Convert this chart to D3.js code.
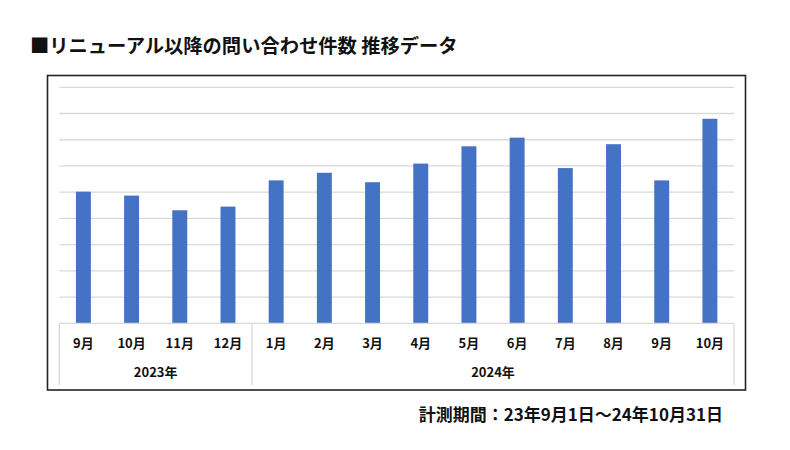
<!DOCTYPE html>
<html>
<head>
<meta charset="utf-8">
<script src="https://cdn.jsdelivr.net/npm/d3@7"></script>
<style>
  body { margin: 0; background: #fff; }
  text { font-family: "Noto Sans CJK JP", "Noto Sans", sans-serif; font-weight: 700; fill: #111; }
</style>
</head>
<body>
<div id="root"></div>
<script>
// data (units: one gridline = 10)
const months = ["9月", "10月", "11月", "12月", "1月", "2月", "3月", "4月", "5月", "6月", "7月", "8月", "9月", "10月"]
const values = [50.2, 48.7, 43.1, 44.5, 54.5, 57.4, 53.8, 60.9, 67.5, 70.8, 59.2, 68.3, 54.5, 78.0]
const years = ["2023年", "2024年"]
const yearCounts = [4, 10]
const gridTicks = [10, 20, 30, 40, 50, 60, 70, 80, 90]

function drawChart() {
    const w = 790, h = 450

    const svg = d3.select("#root").append("svg")
        .attr("width", w)
        .attr("height", h)

    svg.append("rect").attr("width", w).attr("height", h).attr("fill", "#fff")

    // title
    svg.append("text")
        .attr("x", 30)
        .attr("y", 46)
        .attr("dy", "0.36em")
        .attr("font-size", 19.3)
        .text("■リニューアル以降の問い合わせ件数 推移データ")

    // outer frame
    svg.append("rect")
        .attr("x", 47.5)
        .attr("y", 75.5)
        .attr("width", 698)
        .attr("height", 314.5)
        .attr("fill", "#fff")
        .attr("stroke", "#222")
        .attr("stroke-width", 1.6)

    //scales
    const x = d3.scaleBand()
        .domain(d3.range(months.length))
        .range([59.3, 734])
        .paddingInner(0.69)
        .paddingOuter(0.345)

    const y = d3.scaleLinear()
        .domain([0, 90])
        .range([323.3, 87.3])

    // gridlines
    svg.append("g").selectAll("line")
        .data(gridTicks)
        .enter().append("line")
        .attr("x1", 59.3)
        .attr("x2", 734)
        .attr("y1", d => y(d))
        .attr("y2", d => y(d))
        .attr("stroke", "#d9d9d9")
        .attr("stroke-width", 1.3)

    // bars
    svg.append("g").selectAll("rect")
        .data(values)
        .enter().append("rect")
        .attr("x", (d, i) => x(i))
        .attr("width", x.bandwidth())
        .attr("y", d => y(d))
        .attr("height", d => y(0) - y(d))
        .attr("fill", "#4472c4")

    // category axis (two levels)
    const axisBottom = 385
    svg.append("line")
        .attr("x1", 59.3).attr("x2", 734)
        .attr("y1", y(0)).attr("y2", y(0))
        .attr("stroke", "#d9d9d9").attr("stroke-width", 1.3)

    const step = x.step()
    const bounds = [0]
    yearCounts.forEach(c => bounds.push(bounds[bounds.length - 1] + c))
    const xb = i => 59.3 + i * step

    svg.append("g").selectAll("line")
        .data(bounds)
        .enter().append("line")
        .attr("x1", d => xb(d)).attr("x2", d => xb(d))
        .attr("y1", y(0)).attr("y2", axisBottom)
        .attr("stroke", "#d9d9d9").attr("stroke-width", 1.3)

    svg.append("g").selectAll("text")
        .data(months)
        .enter().append("text")
        .attr("x", (d, i) => x(i) + x.bandwidth() / 2)
        .attr("y", 343)
        .attr("dy", "0.36em")
        .attr("text-anchor", "middle")
        .attr("font-size", 13)
        .text(d => d)

    svg.append("g").selectAll("text")
        .data(years)
        .enter().append("text")
        .attr("x", (d, i) => (xb(bounds[i]) + xb(bounds[i + 1])) / 2)
        .attr("y", 372.5)
        .attr("dy", "0.36em")
        .attr("text-anchor", "middle")
        .attr("font-size", 13)
        .text(d => d)

    // footer note
    svg.append("text")
        .attr("x", 723)
        .attr("y", 415)
        .attr("dy", "0.36em")
        .attr("text-anchor", "end")
        .attr("font-size", 17)
        .text("計測期間：23年9月1日～24年10月31日")
}

drawChart()
</script>
</body>
</html>
